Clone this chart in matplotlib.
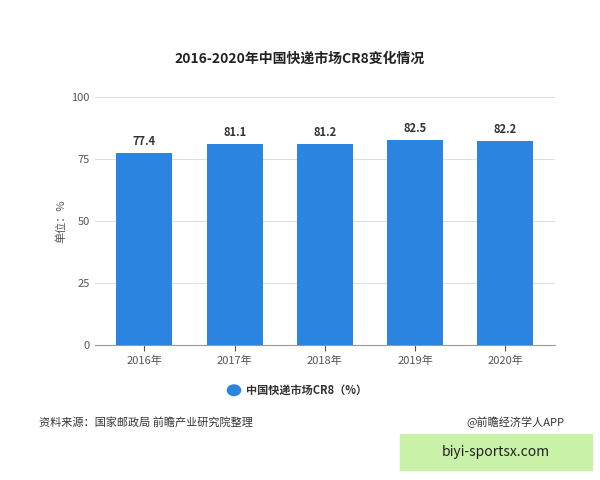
import matplotlib.pyplot as plt
import matplotlib.patches as mpatches

plt.rcParams['font.family'] = ['Noto Sans CJK SC', 'DejaVu Sans']

years = ['2016年', '2017年', '2018年', '2019年', '2020年']
cr8 = [77.4, 81.1, 81.2, 82.5, 82.2]

fig = plt.figure(figsize=(6, 4.8), dpi=100)
ax = fig.add_axes([0.158, 0.281, 0.767, 0.517])

bars = ax.bar(years, cr8, width=0.62, color='#2b84e0', zorder=3)
for b, v in zip(bars, cr8):
    ax.text(b.get_x() + b.get_width() / 2, v + 2, f'{v}', ha='center', va='bottom',
            fontsize=8, fontweight='bold', color='#333333')

ax.set_ylim(0, 100)
ax.set_yticks([0, 25, 50, 75, 100])
ax.set_xlim(-0.55, 4.55)
ax.grid(axis='y', color='#e0e0e0', linewidth=0.8, zorder=0)
for s in ['top', 'right', 'left']:
    ax.spines[s].set_visible(False)
ax.spines['bottom'].set_color('#999999')
ax.tick_params(axis='y', length=0, labelsize=8, colors='#555555')
ax.tick_params(axis='x', length=4, labelsize=8, colors='#555555')
ax.set_ylabel('单位：%', fontsize=8, color='#555555')

fig.text(0.5, 0.878, '2016-2020年中国快递市场CR8变化情况', ha='center', va='center',
         fontsize=10, fontweight='bold', color='#222222')

fig.patches.append(mpatches.Circle((0.39, 0.187), 0.011, transform=fig.transFigure,
                                   color='#2b84e0', figure=fig))
fig.text(0.41, 0.187, '中国快递市场CR8（%）', ha='left', va='center', fontsize=8,
         fontweight='bold', color='#333333')

fig.text(0.065, 0.121, '资料来源：国家邮政局 前瞻产业研究院整理', ha='left', va='center',
         fontsize=8, color='#333333')
fig.text(0.94, 0.121, '@前瞻经济学人APP', ha='right', va='center', fontsize=8, color='#333333')

fig.patches.append(mpatches.Rectangle((0.667, 0.02), 0.32, 0.075, transform=fig.transFigure,
                                      color='#c9f2a8', figure=fig))
fig.text(0.827, 0.058, 'biyi-sportsx.com', ha='center', va='center', fontsize=10, color='#222222')

fig.savefig('out.png')
